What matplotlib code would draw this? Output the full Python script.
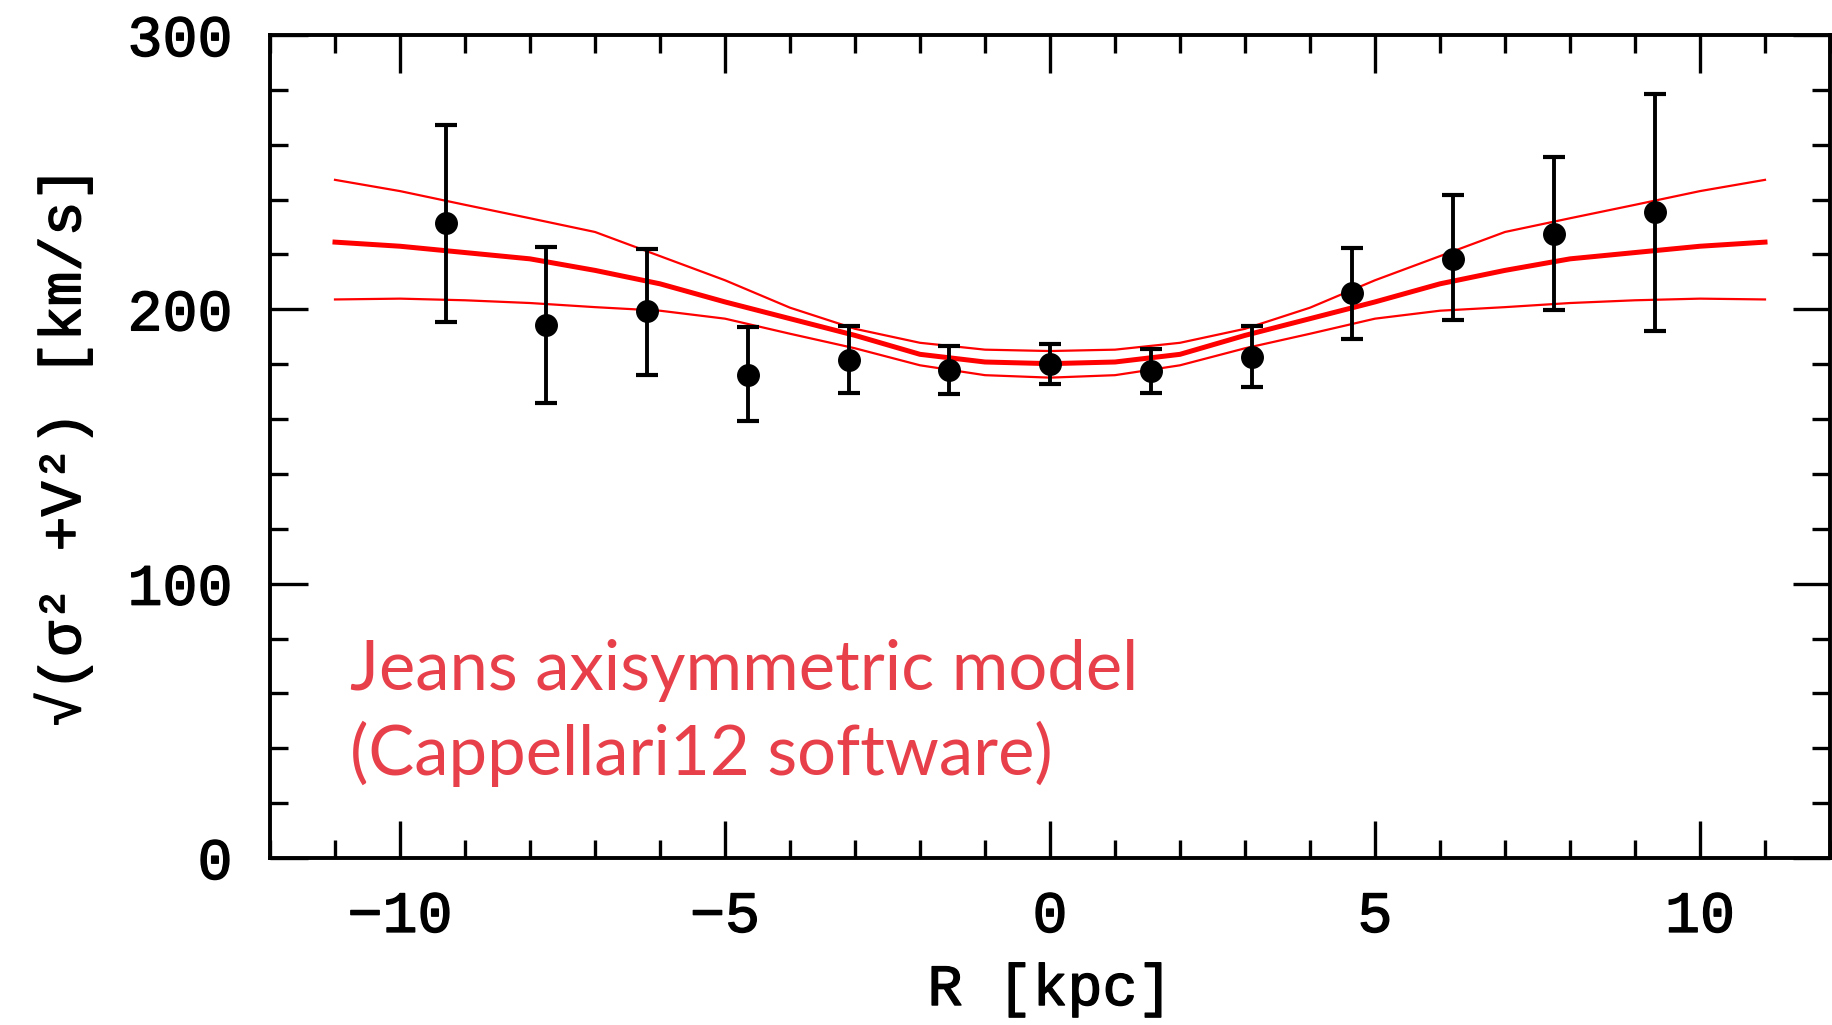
import numpy as np
import matplotlib
matplotlib.use("Agg")
from matplotlib import pyplot as plt
from matplotlib import patheffects
from matplotlib.ticker import MultipleLocator

# observed points: radius [kpc], sqrt(sigma^2+V^2) [km/s], error bar ends
R_obs = [-9.3, -7.75, -6.2, -4.65, -3.1, -1.55, 0.0, 1.55, 3.1, 4.65, 6.2, 7.75, 9.3]
v_obs = [231.4, 194.4, 199.4, 176.2, 181.7, 178.0, 180.2, 177.7, 182.6, 205.9, 218.4, 227.5, 235.3]
v_hi = [267.3, 222.7, 222.1, 193.6, 193.8, 186.6, 187.5, 185.7, 193.8, 222.4, 241.5, 255.5, 278.6]
v_lo = [195.4, 166.0, 176.2, 159.2, 169.5, 169.3, 172.7, 169.4, 171.7, 189.3, 196.0, 199.6, 192.1]

# Jeans model (best fit and the two bounding curves)
R_mod = [-11, -10, -9, -8, -7, -6, -5, -4, -3, -2, -1, 0,
         1, 2, 3, 4, 5, 6, 7, 8, 9, 10, 11]
v_mod = [224.5, 223.0, 220.7, 218.4, 214.2, 209.3, 202.7, 196.6, 190.5, 183.6, 180.8, 180.2,
         180.8, 183.6, 190.5, 196.6, 202.7, 209.3, 214.2, 218.4, 220.7, 223.0, 224.5]
v_mod_hi = [247.2, 243.1, 238.1, 233.2, 228.2, 219.4, 210.6, 200.6, 192.9, 187.8, 185.3, 184.8,
            185.3, 187.8, 192.9, 200.6, 210.6, 219.4, 228.2, 233.2, 238.1, 243.1, 247.2]
v_mod_lo = [203.6, 203.9, 203.3, 202.3, 200.8, 199.5, 196.6, 191.1, 185.8, 179.6, 176.0, 175.1,
            176.0, 179.6, 185.8, 191.1, 196.6, 199.5, 200.8, 202.3, 203.3, 203.9, 203.6]

axfont = ['Liberation Mono', 'DejaVu Sans Mono']
plt.rcParams['font.family'] = axfont

# thicken the regular mono font a bit
thick = [patheffects.withStroke(linewidth=1.0, foreground='black')]

fig = plt.figure(figsize=(18.32, 10.25), dpi=100)
ax = fig.add_axes([270 / 1832, 1 - 858 / 1025, 1560 / 1832, 823 / 1025])

ax.plot(R_mod, v_mod_hi, color='#ff0000', lw=1.6)
ax.plot(R_mod, v_mod_lo, color='#ff0000', lw=1.6)
ax.plot(R_mod, v_mod, color='#ff0000', lw=3.6)

yerr = [np.array(v_obs) - np.array(v_lo), np.array(v_hi) - np.array(v_obs)]
ax.errorbar(R_obs, v_obs, yerr=yerr, fmt='o', color='black', ms=15.5,
            elinewidth=2.8, capsize=8, capthick=3)

ax.set_xlim(-12, 12)
ax.set_ylim(0, 300)
ax.xaxis.set_major_locator(MultipleLocator(5))
ax.xaxis.set_minor_locator(MultipleLocator(1))
ax.yaxis.set_major_locator(MultipleLocator(100))
ax.yaxis.set_minor_locator(MultipleLocator(20))
ax.tick_params(which='both', direction='in', top=True, right=True, labelsize=42)
ax.tick_params(which='major', length=27, width=2.4)
ax.tick_params(which='minor', length=13, width=2.4)
ax.tick_params(axis='x', which='major', pad=23)
ax.tick_params(axis='y', which='major', pad=27)
for s in ax.spines.values():
    s.set_linewidth(2.8)
for lab in ax.get_xticklabels() + ax.get_yticklabels():
    lab.set_path_effects(thick)

ax.set_xlabel('R [kpc]', fontsize=42, path_effects=thick)
ax.xaxis.set_label_coords(0.5, -0.1276)
ax.set_ylabel('√(σ² +V²) [km/s]', fontsize=42, path_effects=thick)
ax.yaxis.set_label_coords(-0.114, 0.5)

red = '#e8404a'
ax.text(0.0513, 0.204, 'Jeans axisymmetric model', transform=ax.transAxes,
        color=red, fontsize=49.5, family=['Lato', 'DejaVu Sans'],
        ha='left', va='baseline')
ax.text(0.0513, 0.101, '(Cappellari12 software)', transform=ax.transAxes,
        color=red, fontsize=49.5, family=['Lato', 'DejaVu Sans'],
        ha='left', va='baseline')

fig.savefig('out.png', dpi=100)
